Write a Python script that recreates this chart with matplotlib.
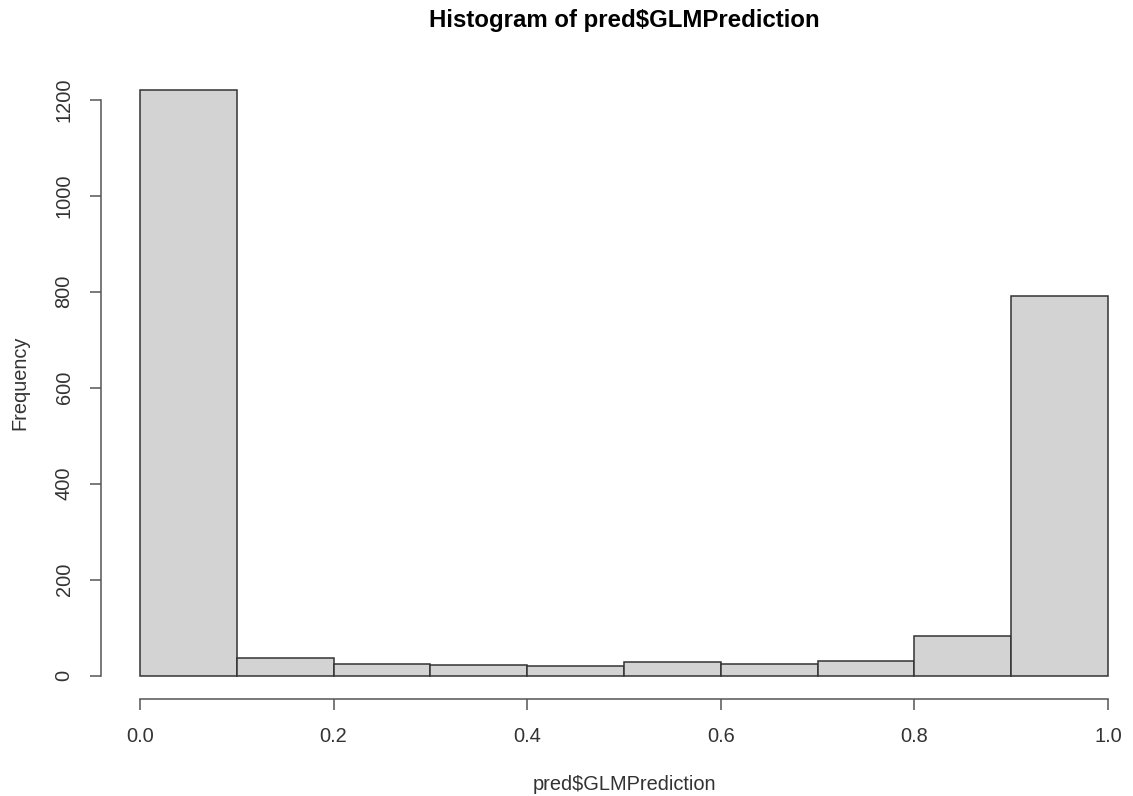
import matplotlib
matplotlib.use("Agg")
import matplotlib.pyplot as plt
import numpy as np

plt.rcParams['font.family'] = ['Liberation Sans', 'DejaVu Sans']

bin_edges = [0.0, 0.1, 0.2, 0.3, 0.4, 0.5, 0.6, 0.7, 0.8, 0.9, 1.0]
counts = [1220, 36, 25, 22, 19, 29, 24, 31, 83, 792]
x_ticks = [0.0, 0.2, 0.4, 0.6, 0.8, 1.0]
x_tick_labels = ["0.0", "0.2", "0.4", "0.6", "0.8", "1.0"]
y_ticks = [0, 200, 400, 600, 800, 1000, 1200]
title = "Histogram of pred$GLMPrediction"
xlabel = "pred$GLMPrediction"
ylabel = "Frequency"

W, H = 1133, 796
fig = plt.figure(figsize=(W / 100, H / 100), dpi=100)
fig.patch.set_facecolor('white')

# axes region in pixels
left_px, right_px = 101.3, 1133
top_px, bottom_px = 66.7, 699
ax = fig.add_axes([left_px / W, 1 - bottom_px / H,
                   (right_px - left_px) / W, (bottom_px - top_px) / H])

x_per_px = 1.0 / 968.0
ax.set_xlim(-0.04, -0.04 + (right_px - left_px) * x_per_px)
ymax = max(counts)
ax.set_ylim(-0.04 * ymax, 1.04 * ymax)

lefts = bin_edges[:-1]
widths = np.diff(bin_edges)
ax.bar(lefts, counts, width=widths, align='edge', color='#D3D3D3',
       edgecolor='#333333', linewidth=1.1)

line_col = '#555555'
text_col = '#333333'
for s in ['top', 'right']:
    ax.spines[s].set_visible(False)
ax.spines['bottom'].set_bounds(0, 1)
ax.spines['left'].set_bounds(0, 1200)
for s in ['bottom', 'left']:
    ax.spines[s].set_color(line_col)
    ax.spines[s].set_linewidth(1.1)

ax.set_xticks(x_ticks)
ax.set_xticklabels(x_tick_labels)
ax.set_yticks(y_ticks)
ax.set_yticklabels([str(v) for v in y_ticks], rotation=90, va='center')
ax.tick_params(axis='both', direction='out', length=8, width=1.1,
               color=line_col, labelcolor=text_col, labelsize=14.4)
ax.tick_params(axis='x', pad=12)
ax.tick_params(axis='y', pad=12)

fig.text(20 / W, 1 - 383 / H, ylabel, rotation=90, ha='center', va='center',
         fontsize=14.4, color=text_col)
fig.text(624 / W, 1 - 784 / H, xlabel, ha='center', va='center',
         fontsize=14.4, color=text_col)
fig.text(624 / W, 1 - 20 / H, title, ha='center', va='center',
         fontsize=17.3, fontweight='bold', color='black')

fig.savefig("out.png", dpi=100)
